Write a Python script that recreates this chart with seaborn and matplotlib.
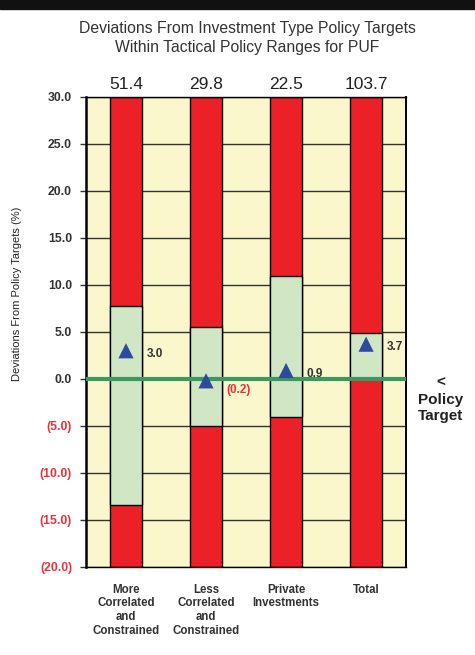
import matplotlib.pyplot as plt
import numpy as np
import pandas as pd
import seaborn as sns

# chart data
categories = ["More\nCorrelated\nand\nConstrained", "Less\nCorrelated\nand\nConstrained",
              "Private\nInvestments", "Total"]
policy_totals = ["51.4", "29.8", "22.5", "103.7"]
range_low = [-13.4, -5.0, -4.0, 0.0]
range_high = [7.8, 5.5, 10.9, 4.9]
actual_dev = [3.0, -0.2, 0.9, 3.7]
dev_labels = ["3.0", "(0.2)", "0.9", "3.7"]
y_ticks = [30, 25, 20, 15, 10, 5, 0, -5, -10, -15, -20]
y_max = 30
y_min = -20

sns.set_theme(style="white", rc={'axes.facecolor': '#fbf7cc', 'axes.edgecolor': 'black'})
plt.rcParams['font.family'] = ['Liberation Sans', 'DejaVu Sans']

red = '#ec2027'
green_fill = '#d0e6c5'
red_txt = '#e8333a'

df = pd.DataFrame({'cat': categories, 'top': [y_max] * 4, 'bot': [y_min] * 4,
                   'lo': range_low, 'hi': range_high, 'dev': actual_dev})

fig = plt.figure(figsize=(4.75, 6.55), dpi=100)
ax = fig.add_axes([0.181, 0.1344, 0.674, 0.7176])
ax.set_axisbelow(True)

for col, c in [('top', red), ('bot', red), ('hi', green_fill), ('lo', green_fill)]:
    sns.barplot(data=df, x='cat', y=col, ax=ax, color=c, width=0.4, saturation=1,
                edgecolor='black', linewidth=1.0, zorder=2)

ax.axhline(0, color='#3a9960', lw=3.0, zorder=3)
sns.scatterplot(data=df, x='cat', y='dev', ax=ax, marker='^', s=120, color='#2e4a9e',
                edgecolor='none', zorder=4)

for i, (v, lab) in enumerate(zip(actual_dev, dev_labels)):
    off = -1.0 if v < 0 else -0.35
    ax.text(i + 0.26, v + off, lab, fontsize=8.5, fontweight='bold', va='center', ha='left',
            color=red_txt if v < 0 else '#333333', zorder=5)
for i, lab in enumerate(policy_totals):
    ax.text(i, y_max + 0.55, lab, fontsize=12.5, ha='center', va='bottom', color='#222222')

ax.set_ylim(y_min, y_max)
ax.set_xlim(-0.5, 3.5)
ax.set_yticks(y_ticks)
ax.set_yticklabels([f"{t:.1f}" if t >= 0 else f"({abs(t):.1f})" for t in y_ticks],
                   fontsize=8.8, fontweight='bold')
for lab, t in zip(ax.get_yticklabels(), y_ticks):
    lab.set_color(red_txt if t < 0 else '#333333')
ax.yaxis.grid(True, color='#333333', lw=1.0)
ax.tick_params(axis='y', direction='out', length=4, width=1, color='#333333', left=True, pad=6)
ax.tick_params(axis='x', length=0, pad=12)
ax.set_xticks(range(4))
ax.set_xticklabels(categories, fontsize=8.3, fontweight='bold', color='#333333', linespacing=1.2)
ax.set_xlabel('')
ax.set_ylabel('Deviations From Policy Targets (%)', fontsize=8.0, color='#222222')
ax.yaxis.set_label_coords(-0.2, 0.582)
for s in ['left', 'right', 'top', 'bottom']:
    ax.spines[s].set_color('black')
    ax.spines[s].set_linewidth(1.0)
ax.spines['left'].set_linewidth(1.8)
ax.spines['right'].set_linewidth(1.4)

fig.text(0.52, 0.968, 'Deviations From Investment Type Policy Targets\nWithin Tactical Policy Ranges for PUF',
         ha='center', va='top', fontsize=11.3, color='#333333', linespacing=1.3)
fig.text(0.927, 0.39, '<\nPolicy\nTarget', ha='center', va='center', fontsize=11,
         fontweight='bold', color='#222222', linespacing=1.25)
fig.add_artist(plt.Rectangle((0, 1 - 9 / 655), 1, 9 / 655, transform=fig.transFigure,
                             color='#111111'))

fig.savefig('out.png', dpi=100)
